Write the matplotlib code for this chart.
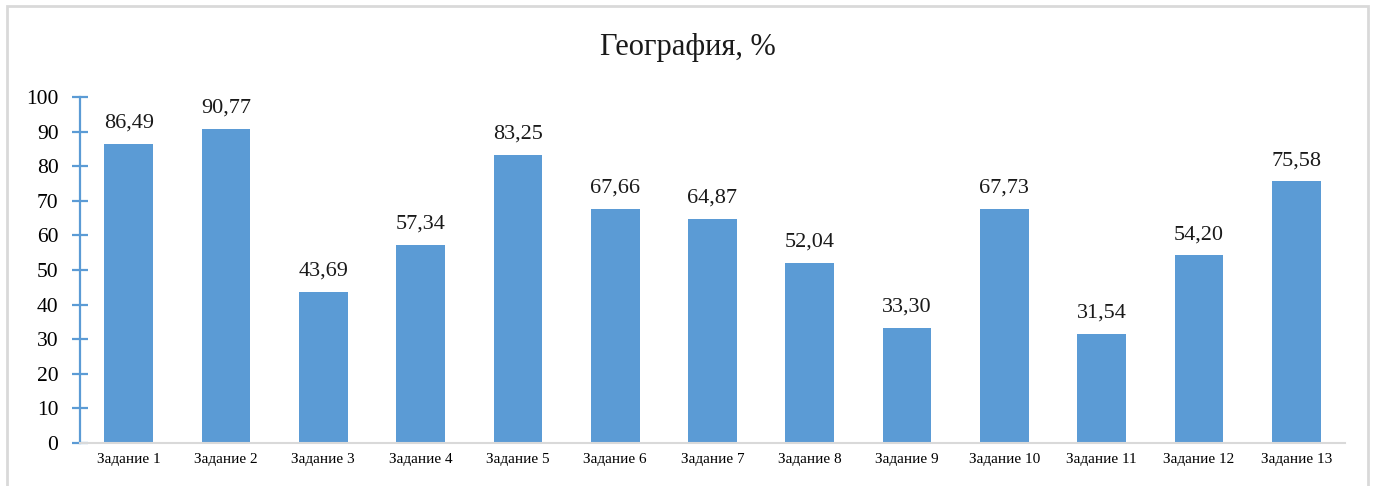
import matplotlib
matplotlib.use("Agg")
import matplotlib.pyplot as plt
from matplotlib.patches import Rectangle

categories = [f"Задание {i}" for i in range(1, 14)]
values = [86.49, 90.77, 43.69, 57.34, 83.25, 67.66, 64.87, 52.04, 33.30, 67.73, 31.54, 54.20, 75.58]
yticks = list(range(0, 101, 10))
title = "География, %"

plt.rcParams['font.family'] = ['Liberation Serif', 'DejaVu Serif']

W, H = 1375, 486
fig = plt.figure(figsize=(W / 100, H / 100), dpi=100)
fig.patch.set_facecolor('white')
fig.add_artist(Rectangle((7 / W, -0.05), (1368 - 7) / W, 1 - 6 / H + 0.05,
                         transform=fig.transFigure, fill=False,
                         edgecolor='#d9d9d9', linewidth=2))

ax = fig.add_axes([80 / W, 1 - 443 / H, (1345 - 80) / W, (443 - 97) / H])
x = list(range(len(categories)))
ax.bar(x, values, width=0.5, color='#5B9BD5', zorder=2)
for xi, v in zip(x, values):
    ax.text(xi, v + 3.3, f"{v:.2f}".replace('.', ','), ha='center', va='bottom',
            fontsize=16, color='#1a1a1a')

ax.set_xlim(-0.5, len(categories) - 0.5)
ax.set_ylim(0, 100)
ax.set_yticks(yticks)
ax.set_yticklabels([str(t) for t in yticks], fontsize=15.5)
ax.set_xticks(x)
ax.set_xticklabels(categories, fontsize=11)
ax.tick_params(axis='x', length=0, pad=7)
ax.tick_params(axis='y', direction='inout', length=11, width=1.6, color='#5B9BD5', pad=10)

for s in ['top', 'right']:
    ax.spines[s].set_visible(False)
ax.spines['left'].set_color('#5B9BD5')
ax.spines['left'].set_linewidth(1.6)
ax.spines['bottom'].set_color('#d9d9d9')
ax.spines['bottom'].set_linewidth(1.5)

fig.text(688 / W, 1 - 47 / H, title, ha='center', va='center', fontsize=22, color='#1a1a1a')

fig.savefig('out.png', dpi=100)
